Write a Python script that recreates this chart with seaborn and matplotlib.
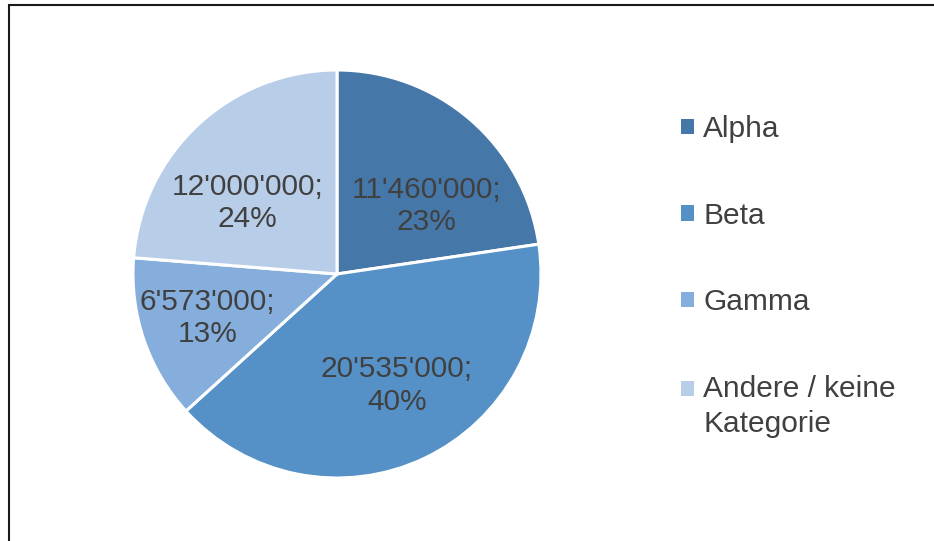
import seaborn as sns
import matplotlib.pyplot as plt
from matplotlib.patches import Patch, Rectangle
from matplotlib.legend_handler import HandlerPatch
import numpy as np

# data
categories = ['Alpha', 'Beta', 'Gamma', 'Andere / keine\nKategorie']
values = [11460000, 20535000, 6573000, 12000000]
percents = [23, 40, 13, 24]
colors = ['#4677a9', '#5591c7', '#86aedc', '#b8cde8']

# label placement (radius fraction, angle shift in degrees) like Excel's best fit
label_dist = [0.55, 0.62, 0.67, 0.56]
label_shift = [-12, 3, 0, 9]

sns.set_theme(style='white')
plt.rcParams['font.family'] = ['Liberation Sans', 'DejaVu Sans']
text_color = '#404040'
fs = 21.5

fig = plt.figure(figsize=(9.34, 5.41), dpi=100)
# pie axes: centre ~ (337, 274) px, radius ~204 px
r_px = 204
ax = fig.add_axes([(337 - r_px) / 934, (541 - 274 - r_px) / 541,
                   2 * r_px / 934, 2 * r_px / 541])

wedges, _ = ax.pie(values, colors=colors, startangle=90, counterclock=False,
                   wedgeprops=dict(edgecolor='white', linewidth=2.2))
ax.set_xlim(-1, 1)
ax.set_ylim(-1, 1)
ax.set_aspect('equal')

for w, v, p, d, s in zip(wedges, values, percents, label_dist, label_shift):
    ang = np.deg2rad((w.theta1 + w.theta2) / 2 + s)
    lbl = "{:,}".format(v).replace(',', "'") + ';\n' + f'{p}%'
    ax.text(d * np.cos(ang), d * np.sin(ang), lbl, ha='center', va='center',
            fontsize=fs, color=text_color, linespacing=1.2)

# legend with small squares, multi-line entry keeps its square at the first line
def square(legend, orig_handle, xdescent, ydescent, width, height, fontsize):
    return Rectangle((-xdescent, -ydescent), width, height)

def square_top(legend, orig_handle, xdescent, ydescent, width, height, fontsize):
    return Rectangle((-xdescent, -ydescent + 0.6 * fontsize), width, height)

handles = [Patch(facecolor=c, edgecolor='none') for c in colors]
hmap = {h: HandlerPatch(patch_func=square) for h in handles[:-1]}
hmap[handles[-1]] = HandlerPatch(patch_func=square_top)
leg = fig.legend(handles, categories, loc='upper left',
                 bbox_to_anchor=(681 / 934, 1 - 115 / 541),
                 frameon=False, fontsize=fs, labelcolor=text_color,
                 handlelength=0.42, handleheight=0.42, handletextpad=0.33,
                 labelspacing=1.96, borderpad=0, borderaxespad=0,
                 handler_map=hmap)
for t in leg.get_texts():
    t.set_linespacing(1.34)

# chart frame (only top and left edges are inside the picture)
fig.patches.append(Rectangle((9 / 934, -0.1), 1.0, 1 - 5 / 541 + 0.1,
                             transform=fig.transFigure, fill=False,
                             edgecolor='#1a1a1a', linewidth=1.5))

plt.savefig('out.png', dpi=100)
